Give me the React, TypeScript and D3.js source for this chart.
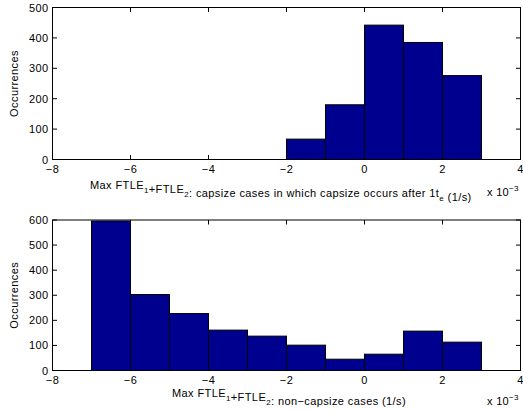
import React from "react";
import * as d3 from "d3";

const binEdgesTop = [-2, -1, 0, 1, 2, 3];
const countsTop = [67, 180, 442, 385, 276, 0];
const binEdgesBottom = [-7, -6, -5, -4, -3, -2, -1, 0, 1, 2, 3];
const countsBottom = [596, 303, 227, 161, 137, 101, 45, 65, 157, 113, 0];
const xTicks = [-8, -6, -4, -2, 0, 2, 4];
const yTicksTop = [0, 100, 200, 300, 400, 500];
const yTicksBottom = [0, 100, 200, 300, 400, 500, 600];

const FONT = "Liberation Sans, Arial, Helvetica, sans-serif";
const FILL = "#00008F";

type PanelProps = {
  top: number;
  bottom: number;
  yMax: number;
  yTicks: number[];
  edges: number[];
  counts: number[];
  label: React.ReactNode;
  labelX: number;
  labelY: number;
  expY: number;
};

function Panel({ top, bottom, yMax, yTicks, edges, counts, label, labelX, labelY, expY }: PanelProps) {
  const left = 52.5;
  const right = 520.5;
  const x = d3.scaleLinear().domain([-8, 4]).range([left, right]);
  const y = d3.scaleLinear().domain([0, yMax]).range([bottom, top]);
  const tl = 4.5;
  return (
    <g>
      {counts.map((c, i) => (
        <rect
          key={i}
          x={x(edges[i])}
          y={y(c)}
          width={x(edges[i] + 1) - x(edges[i])}
          height={y(0) - y(c)}
          fill={FILL}
          stroke="#000"
          strokeWidth={1}
        />
      ))}
      <rect x={left} y={top} width={right - left} height={bottom - top} fill="none" stroke="#000" strokeWidth={1} />
      {xTicks.map((t) => (
        <g key={"x" + t}>
          <line x1={x(t)} x2={x(t)} y1={bottom} y2={bottom - tl} stroke="#000" />
          <line x1={x(t)} x2={x(t)} y1={top} y2={top + tl} stroke="#000" />
          <text x={x(t)} y={bottom + 13} textAnchor="middle" fontSize={11} letterSpacing={0.4} fontFamily={FONT}>
            {t < 0 ? "\u2212" + Math.abs(t) : String(t)}
          </text>
        </g>
      ))}
      {yTicks.map((t) => (
        <g key={"y" + t}>
          <line x1={left} x2={left + tl} y1={y(t)} y2={y(t)} stroke="#000" />
          <line x1={right} x2={right - tl} y1={y(t)} y2={y(t)} stroke="#000" />
          <text x={48.5} y={y(t) + 4} textAnchor="end" fontSize={11} letterSpacing={0.4} fontFamily={FONT}>
            {t}
          </text>
        </g>
      ))}
      <text
        transform={`translate(18,${(top + bottom) / 2}) rotate(-90)`}
        textAnchor="middle"
        fontSize={11}
        letterSpacing={0.4}
        fontFamily={FONT}
      >
        Occurrences
      </text>
      <text x={labelX} y={labelY} fontSize={11} letterSpacing={0.4} fontFamily={FONT}>
        {label}
      </text>
      <text x={487} y={expY} fontSize={11} letterSpacing={0.3} fontFamily={FONT}>
        x 10
        <tspan fontSize={8} dy={-5}>
          {"\u22123"}
        </tspan>
      </text>
    </g>
  );
}

const sub = (s: string) => (
  <>
    <tspan fontSize={8} dy={4}>
      {s}
    </tspan>
    <tspan dy={-4}></tspan>
  </>
);

export default function App() {
  const topLabel = (
    <>
      Max FTLE{sub("1")}+FTLE{sub("2")}: capsize cases in which capsize occurs after 1t{sub("e")} (1/s)
    </>
  );
  const bottomLabel = (
    <>
      Max FTLE{sub("1")}+FTLE{sub("2")}: non{"\u2212"}capsize cases (1/s)
    </>
  );
  return (
    <svg width={523} height={412} style={{ position: "absolute", left: 0, top: 0, background: "#fff" }}>
      <rect width={523} height={412} fill="#fff" />
      <Panel
        top={7.5}
        bottom={159.5}
        yMax={500}
        yTicks={yTicksTop}
        edges={binEdgesTop}
        counts={countsTop}
        label={topLabel}
        labelX={90}
        labelY={189}
        expY={196}
      />
      <Panel
        top={220}
        bottom={370.5}
        yMax={600}
        yTicks={yTicksBottom}
        edges={binEdgesBottom}
        counts={countsBottom}
        label={bottomLabel}
        labelX={172}
        labelY={397}
        expY={405}
      />
    </svg>
  );
}
